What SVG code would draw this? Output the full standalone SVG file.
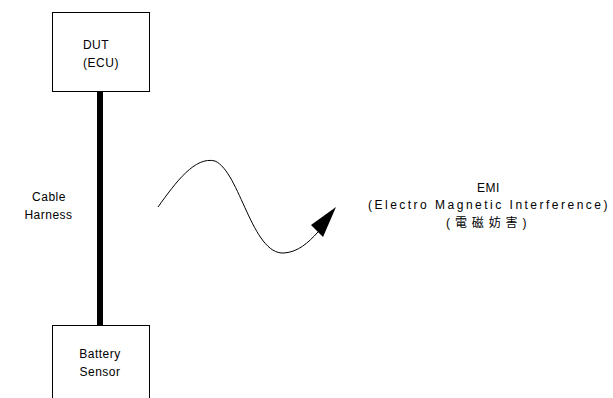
<svg xmlns="http://www.w3.org/2000/svg" width="613" height="398" viewBox="0 0 613 398">
<style>
.box{fill:#fff;stroke:#000;stroke-width:1}
.t{font-family:"Liberation Sans",Arial,"Noto Sans CJK JP",sans-serif;font-size:12px;fill:#000;text-anchor:middle;letter-spacing:0.5px}
</style>
<rect width="613" height="398" fill="#fff"/>
<g id="connectors">
<line x1="100" y1="92" x2="100" y2="325" stroke="#000" stroke-width="6"/>
<circle cx="100" cy="92" r="3" fill="#000"/>
<circle cx="100" cy="325" r="3" fill="#000"/>
<path d="M158,207 C176,182 195,156 215,161 C240,172 252,255 284,253 C298,252 308,243 318,232" fill="none" stroke="#000" stroke-width="1"/>
<polygon points="336,207 311,225 323,237" fill="#000"/>
</g>
<g id="dut">
<rect class="box" x="52.5" y="12.5" width="97" height="79"/>
<text class="t" x="96" y="49">DUT</text>
<text class="t" x="101" y="67">(ECU)</text>
</g>
<g id="battery">
<rect class="box" x="52.5" y="325.5" width="97" height="80"/>
<text class="t" x="100" y="358">Battery</text>
<text class="t" x="100" y="376">Sensor</text>
</g>
<g id="cable">
<text class="t" x="49" y="201">Cable</text>
<text class="t" x="48.5" y="219">Harness</text>
</g>
<g id="emi">
<text class="t" x="488.5" y="192">EMI</text>
<text class="t" x="488" y="209" textLength="240">(Electro Magnetic Interference)</text>
<text class="t" x="486.5" y="227" textLength="81">(電磁妨害)</text>
</g>
</svg>
